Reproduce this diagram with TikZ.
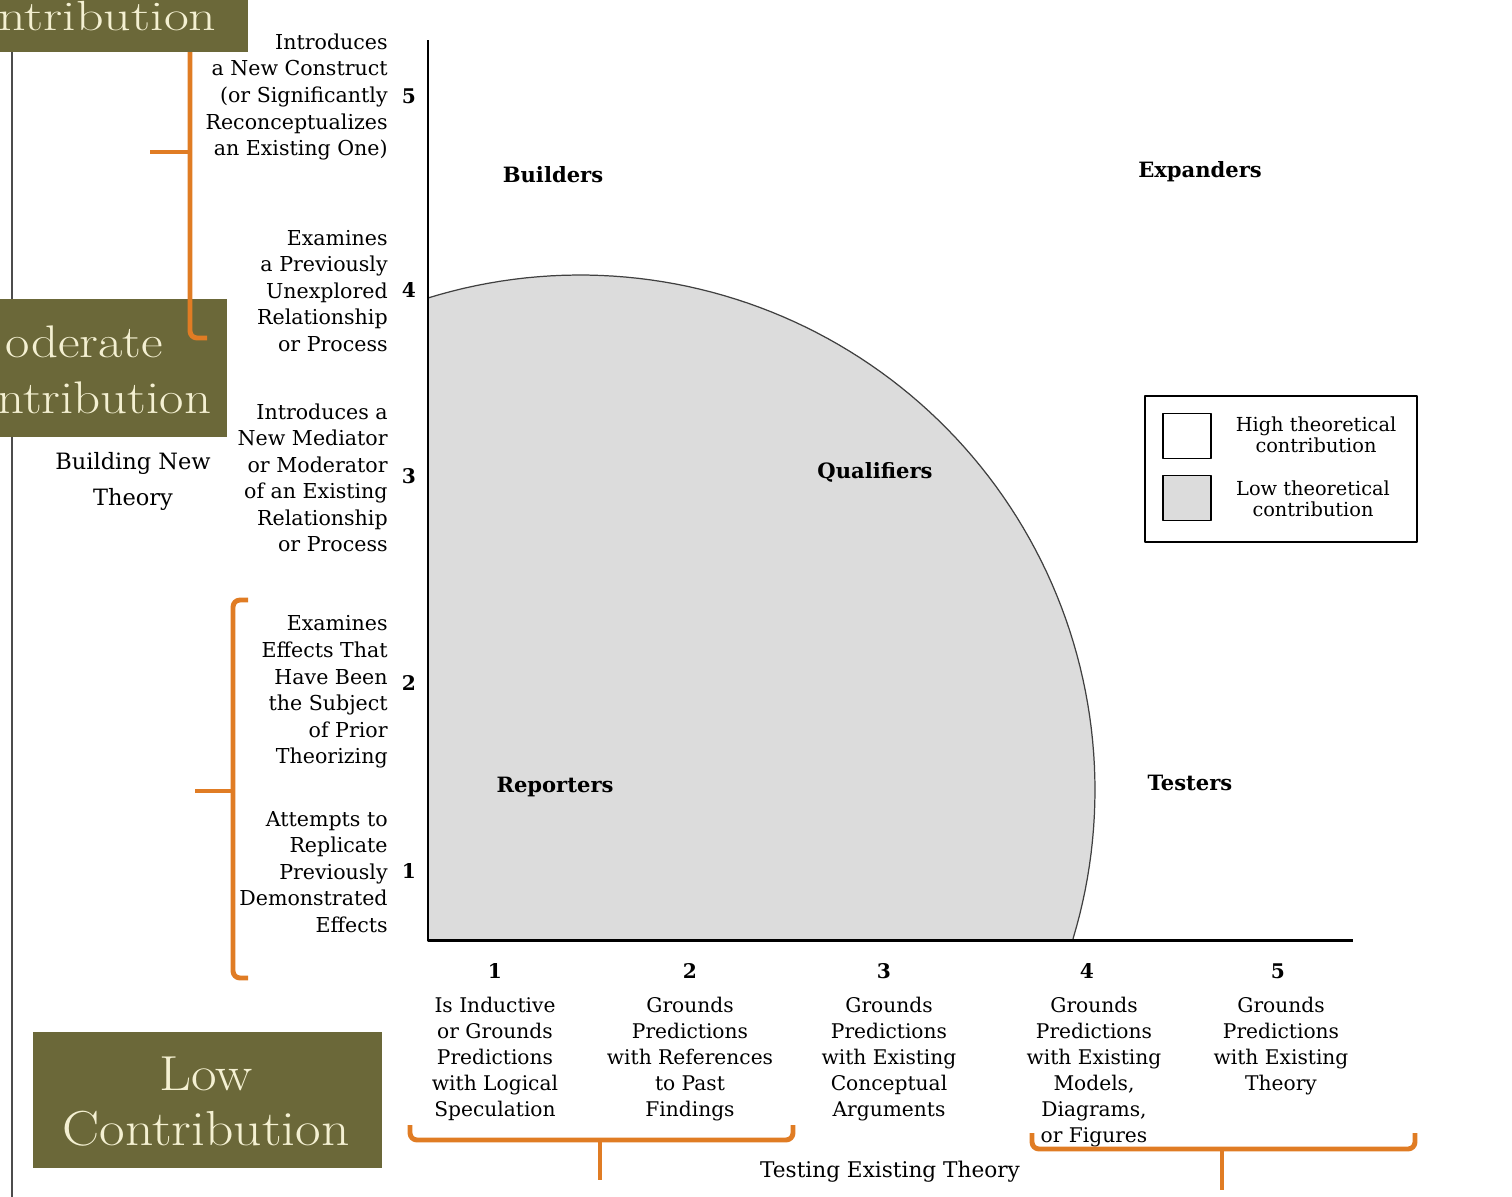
\documentclass[tikz,border=0pt]{standalone}
\usepackage{fontspec}
\newfontfamily\chartfont{DejaVu Serif}
\usepackage{xcolor}
\usepackage{tikz}
\usetikzlibrary{positioning}
\definecolor{olivebox}{HTML}{6B6839}
\definecolor{boxtext}{HTML}{F4F0D2}
\definecolor{bracecolor}{HTML}{E07C24}
\definecolor{lowfill}{HTML}{DCDCDC}
\newcommand{\widen}[2]{\scalebox{#1}[1]{#2}}

\begin{document}
\begin{tikzpicture}[
    x=0.02cm, y=-0.02cm, line join=round,
    slidetext/.style={text=boxtext, font=\fontsize{28}{31}\selectfont, inner sep=0},
    lvl/.style={font=\chartfont\fontsize{11.7}{15.1}\selectfont, align=right, anchor=east, inner sep=0},
    colabel/.style={font=\chartfont\fontsize{11.5}{14.8}\selectfont, align=center, anchor=north, inner sep=0},
    tick/.style={font=\chartfont\bfseries\fontsize{11.5}{14}\selectfont, inner sep=0},
    group/.style={font=\chartfont\bfseries\fontsize{12}{14}\selectfont, inner sep=0},
    legtext/.style={font=\chartfont\fontsize{11}{12.2}\selectfont, align=center, inner sep=0},
    swatch/.style={draw, line width=0.8pt, minimum width=0.96cm, minimum height=0.9cm, inner sep=0},
    brace/.style={draw=bracecolor, line width=2.8pt, rounded corners=4pt},
    axis/.style={line width=1.7pt}
]
    \useasboundingbox (0,0) rectangle (1512,1197);

    % Slide border
    \draw[black!70, line width=1.2pt] (12,0) -- (12,1197);

    % Low contribution region
    \fill[lowfill] (428,939) -- (428,298)
        -- plot[domain=-107.2:16.8, samples=90] ({580+515*cos(\x)},{790+515*sin(\x)}) -- cycle;
    \draw[black!75, line width=0.7pt]
        plot[domain=-107.2:16.8, samples=90] ({580+515*cos(\x)},{790+515*sin(\x)});

    % Axes
    \coordinate (ytop) at (428,40);
    \coordinate (origin) at (428,940);
    \coordinate (xend) at (1353,940);
    \draw[axis] (ytop) -- (origin) -- (xend);

    % Quadrant labels
    \node[group] (builders) at (553,175) {Builders};
    \node[group] (expanders) at (1200,172) {Expanders};
    \node[group] (qualifiers) at (875,472) {Qualifiers};
    \node[group] (reporters) at (555,787) {Reporters};
    \node[group] (testers) at (1190,783) {Testers};

    % Tick numbers
    \foreach \n/\yy in {5/96,4/290,3/476,2/683,1/871}
        \node[tick] (y\n) at (409,\yy) {\n};
    \foreach \n/\xx in {1/495,2/690,3/884,4/1087,5/1278}
        \node[tick] (x\n) at (\xx,971) {\n};

    % Building new theory (vertical axis)
    \node[lvl] (lvl5) at (388,97) {Introduces\\a New Construct\\(or Significantly\\Reconceptualizes\\an Existing One)};
    \node[lvl] (lvl4) at (388,291) {Examines\\a Previously\\Unexplored\\Relationship\\or Process};
    \node[lvl] (lvl3) at (388,478) {Introduces a\\New Mediator\\or Moderator\\of an Existing\\Relationship\\or Process};
    \node[lvl] (lvl2) at (388,692) {Examines\\Effects That\\Have Been\\the Subject\\of Prior\\Theorizing};
    \node[lvl] (lvl1) at (388,872) {Attempts to\\Replicate\\Previously\\Demonstrated\\Effects};
    \node[font=\chartfont\fontsize{12.8}{20.5}\selectfont, align=center] (building) at (133,481) {Building New\\Theory};

    % Testing existing theory (horizontal axis)
    \node[colabel] (col1) at (495,997) {Is Inductive\\or Grounds\\Predictions\\with Logical\\Speculation};
    \node[colabel] (col2) at (690,997) {Grounds\\Predictions\\with References\\to Past\\Findings};
    \node[colabel] (col3) at (889,997) {Grounds\\Predictions\\with Existing\\Conceptual\\Arguments};
    \node[colabel] (col4) at (1094,997) {Grounds\\Predictions\\with Existing\\Models,\\Diagrams,\\or Figures};
    \node[colabel] (col5) at (1281,997) {Grounds\\Predictions\\with Existing\\Theory};
    \node[font=\chartfont\fontsize{12.3}{14}\selectfont] (testing) at (890,1172) {Testing Existing Theory};

    % Legend
    \draw[line width=0.8pt] (1145,396) rectangle (1417,542);
    \node[swatch, fill=white] (hisq) at (1187,436) {};
    \node[swatch, fill=lowfill] (losq) at (1187,498) {};
    \node[legtext] (hitext) at (1316,435) {High theoretical\\contribution};
    \node[legtext] (lotext) at (1313,499) {Low theoretical\\contribution};

    % Slide boxes
    \fill[olivebox] (0,299) rectangle (227,437);
    \node[slidetext, anchor=base west, font=\fontsize{26}{30}\selectfont] (modtop) at (5,357) {\widen{1.16}{oderate}};
    \node[slidetext, anchor=base west, font=\fontsize{26}{30}\selectfont] (modbot) at (-3,413) {\widen{1.16}{ntribution}};
    \fill[olivebox] (33,1032) rectangle (382,1168);
    \node[slidetext, anchor=base] (lowtop) at (206,1090) {\widen{1.13}{Low}};
    \node[slidetext, anchor=base] (lowbot) at (206,1145) {\widen{1.13}{Contribution}};

    % Braces
    \draw[brace] (190,52) -- (190,338) -- (207,338);
    \draw[brace] (150,152) -- (190,152);
    \draw[brace] (248,600) -- (233,600) -- (233,978) -- (248,978);
    \draw[brace] (195,791) -- (233,791);
    \draw[brace] (410,1125) -- (410,1140) -- (793,1140) -- (793,1125);
    \draw[brace] (600,1140) -- (600,1180);
    \draw[brace] (1032,1133) -- (1032,1149) -- (1415,1149) -- (1415,1133);
    \draw[brace] (1222,1149) -- (1222,1190);

    % Top slide box
    \fill[olivebox] (0,0) rectangle (248,52);
    \node[slidetext, anchor=base west, font=\fontsize{24}{28}\selectfont] (hightop) at (-2,30) {\widen{1.28}{ntribution}};
\end{tikzpicture}
\end{document}
